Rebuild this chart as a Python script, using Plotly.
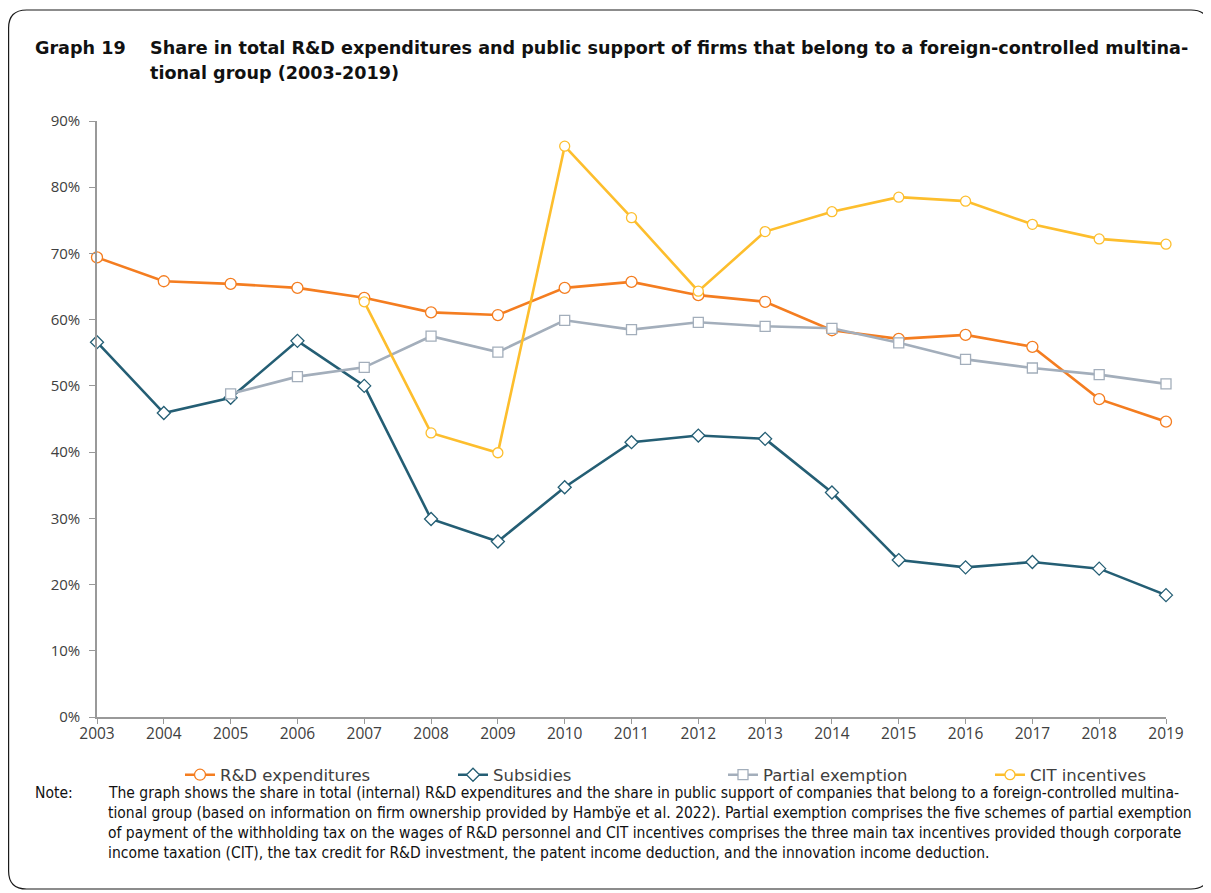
import plotly.graph_objects as go

years = list(range(2003, 2020))
rd_expenditures = [0.694, 0.658, 0.654, 0.648, 0.633, 0.611, 0.607, 0.648, 0.657, 0.637, 0.627,
                   0.584, 0.571, 0.577, 0.559, 0.480, 0.446]
subsidies = [0.566, 0.459, 0.482, 0.568, 0.500, 0.299, 0.265, 0.347, 0.415, 0.425, 0.420,
             0.339, 0.237, 0.226, 0.234, 0.224, 0.184]
partial_exemption = [None, None, 0.488, 0.514, 0.528, 0.575, 0.551, 0.599, 0.585, 0.596, 0.590,
                     0.587, 0.565, 0.540, 0.527, 0.517, 0.503]
cit_incentives = [None, None, None, None, 0.627, 0.429, 0.399, 0.862, 0.754, 0.643, 0.733,
                  0.763, 0.785, 0.779, 0.744, 0.722, 0.714]

series = [
    ("R&D expenditures", rd_expenditures, "#F47D20", "circle", 11),
    ("Subsidies", subsidies, "#245E74", "diamond", 10),
    ("Partial exemption", partial_exemption, "#A3AEBB", "square", 10),
    ("CIT incentives", cit_incentives, "#FDBE2D", "circle", 10),
]

OFF = 8  # browser body margin
W, H = 1211 - OFF, 893 - OFF
L, R, T, B = 89, 45, 113, 176
PW, PH = W - L - R, H - T - B

def px(x):  # page pixel -> paper
    return (x - OFF - L) / PW

def py(y):
    return (H - B - (y - OFF)) / PH

legend_x = [180, 453, 723, 990]  # page pixels of legend boxes

fig = go.Figure()
for i, (name, vals, col, sym, sz) in enumerate(series):
    lg = "legend" if i == 0 else f"legend{i + 1}"
    fig.add_trace(go.Scatter(
        x=years, y=vals, name=name, mode="lines+markers",
        line=dict(color=col, width=2.6),
        marker=dict(symbol=sym, size=sz, color="white", line=dict(color=col, width=1.3)),
        cliponaxis=False, connectgaps=False, legend=lg,
    ))

# rounded border
x0, x1, y0, y1, r = 8.6, 1209, 10, 889, 18
path = (f"M {px(x0)} {py(y0 + r)} "
        f"Q {px(x0)} {py(y0)} {px(x0 + r)} {py(y0)} "
        f"L {px(x1 - r)} {py(y0)} "
        f"Q {px(x1)} {py(y0)} {px(x1)} {py(y0 + r)} "
        f"L {px(x1)} {py(y1 - r)} "
        f"Q {px(x1)} {py(y1)} {px(x1 - r)} {py(y1)} "
        f"L {px(x0 + r)} {py(y1)} "
        f"Q {px(x0)} {py(y1)} {px(x0)} {py(y1 - r)} Z")
fig.add_shape(type="path", path=path, xref="paper", yref="paper",
              line=dict(color="#1a1a1a", width=1.2), fillcolor="rgba(0,0,0,0)", layer="below")

title_font = dict(family="DejaVu Sans", size=17.6, color="#111111")
fig.add_annotation(text="<b>Graph 19</b>", x=px(33), y=py(48), xref="paper", yref="paper",
                   xanchor="left", yanchor="middle", showarrow=False, font=title_font)
fig.add_annotation(text="<b>Share in total R&D expenditures and public support of firms that belong to a foreign-controlled multina-</b>",
                   x=px(148), y=py(48), xref="paper", yref="paper",
                   xanchor="left", yanchor="middle", showarrow=False, font=title_font)
fig.add_annotation(text="<b>tional group (2003-2019)</b>",
                   x=px(148), y=py(73), xref="paper", yref="paper",
                   xanchor="left", yanchor="middle", showarrow=False, font=title_font)

note_font = dict(family="DejaVu Sans Condensed, DejaVu Sans", size=15.5, color="#111111")
note_lines = [
    "The graph shows the share in total (internal) R&D expenditures and the share in public support of companies that belong to a foreign-controlled multina-",
    "tional group (based on information on firm ownership provided by Hambÿe et al. 2022). Partial exemption comprises the five schemes of partial exemption",
    "of payment of the withholding tax on the wages of R&D personnel and CIT incentives comprises the three main tax incentives provided though corporate",
    "income taxation (CIT), the tax credit for R&D investment, the patent income deduction, and the innovation income deduction.",
]
fig.add_annotation(text="Note:", x=px(33), y=py(793), xref="paper", yref="paper",
                   xanchor="left", yanchor="middle", showarrow=False, font=note_font)
for i, ln in enumerate(note_lines):
    fig.add_annotation(text=ln, x=px(106), y=py(793 + 20 * i), xref="paper", yref="paper",
                       xanchor="left", yanchor="middle", showarrow=False, font=note_font)

legend_font = dict(family="DejaVu Sans", size=16.5, color="#404040")
layout_legends = {}
for i, lx in enumerate(legend_x):
    key = "legend" if i == 0 else f"legend{i + 1}"
    layout_legends[key] = dict(orientation="h", x=px(lx), y=py(775), xanchor="left", yanchor="middle",
                               font=legend_font, bgcolor="rgba(0,0,0,0)")

fig.update_layout(
    width=W, height=H,
    margin=dict(l=L, r=R, t=T, b=B),
    paper_bgcolor="white", plot_bgcolor="white",
    showlegend=True,
    xaxis=dict(range=[2003, 2019], tickvals=years, ticks="outside", ticklen=5, tickcolor="#999999",
               showline=True, linecolor="#999999", linewidth=1.5, showgrid=False, zeroline=False,
               ticklabelstandoff=-3,
               tickfont=dict(family="Open Sans", size=15.5, color="#404040")),
    yaxis=dict(range=[0, 0.9], dtick=0.1, tickformat=".0%", ticks="outside", ticklen=6, tickcolor="#999999",
               showline=True, linecolor="#999999", linewidth=1.5, showgrid=False, zeroline=False,
               ticklabelstandoff=6,
               tickfont=dict(family="Open Sans", size=15, color="#404040")),
    **layout_legends,
)

fig.write_html("out.html")
